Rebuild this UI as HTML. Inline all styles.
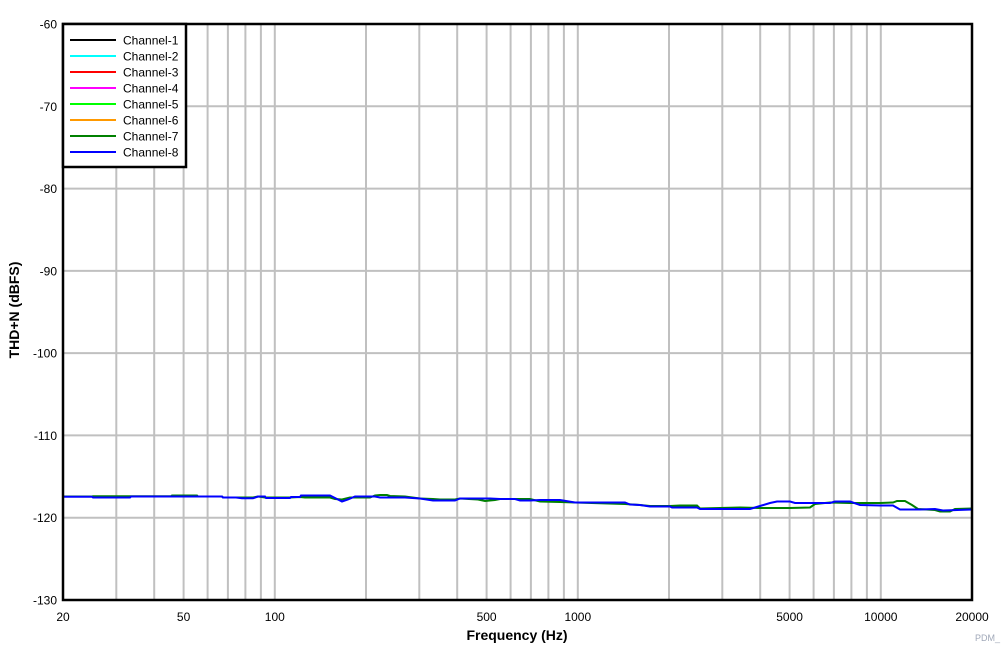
<!DOCTYPE html>
<html><head><meta charset="utf-8"><style>
html,body{margin:0;padding:0;background:#fff;}
svg{display:block;font-family:"Liberation Sans",Arial,sans-serif;}
</style></head><body>
<svg width="1008" height="652" viewBox="0 0 1008 652" xmlns="http://www.w3.org/2000/svg">
<rect width="1008" height="652" fill="#fff"/>
<g stroke="#c0c0c0" stroke-width="2">
<line x1="116.3" y1="24" x2="116.3" y2="600"/>
<line x1="154.2" y1="24" x2="154.2" y2="600"/>
<line x1="183.6" y1="24" x2="183.6" y2="600"/>
<line x1="207.6" y1="24" x2="207.6" y2="600"/>
<line x1="227.9" y1="24" x2="227.9" y2="600"/>
<line x1="245.4" y1="24" x2="245.4" y2="600"/>
<line x1="260.9" y1="24" x2="260.9" y2="600"/>
<line x1="274.8" y1="24" x2="274.8" y2="600"/>
<line x1="366.0" y1="24" x2="366.0" y2="600"/>
<line x1="419.3" y1="24" x2="419.3" y2="600"/>
<line x1="457.2" y1="24" x2="457.2" y2="600"/>
<line x1="486.6" y1="24" x2="486.6" y2="600"/>
<line x1="510.6" y1="24" x2="510.6" y2="600"/>
<line x1="530.9" y1="24" x2="530.9" y2="600"/>
<line x1="548.4" y1="24" x2="548.4" y2="600"/>
<line x1="563.9" y1="24" x2="563.9" y2="600"/>
<line x1="577.8" y1="24" x2="577.8" y2="600"/>
<line x1="669.0" y1="24" x2="669.0" y2="600"/>
<line x1="722.3" y1="24" x2="722.3" y2="600"/>
<line x1="760.2" y1="24" x2="760.2" y2="600"/>
<line x1="789.6" y1="24" x2="789.6" y2="600"/>
<line x1="813.6" y1="24" x2="813.6" y2="600"/>
<line x1="833.9" y1="24" x2="833.9" y2="600"/>
<line x1="851.4" y1="24" x2="851.4" y2="600"/>
<line x1="866.9" y1="24" x2="866.9" y2="600"/>
<line x1="880.8" y1="24" x2="880.8" y2="600"/>
<line x1="63" y1="106.3" x2="972" y2="106.3"/>
<line x1="63" y1="188.6" x2="972" y2="188.6"/>
<line x1="63" y1="270.9" x2="972" y2="270.9"/>
<line x1="63" y1="353.1" x2="972" y2="353.1"/>
<line x1="63" y1="435.4" x2="972" y2="435.4"/>
<line x1="63" y1="517.7" x2="972" y2="517.7"/>
</g>
<!-- green channel 7 -->
<polyline fill="none" stroke="#008000" stroke-width="2" points="63,496.5 92,496.5 93,496.3 130,496.3 171,496.3 172,495.5 197,495.5 198,496.5 222,496.5 223,497.5 240,497.5 253,497.5 258,496.5 265,497.5 290,497.5 300,497 305,497.5 330,497.5 335,499 342,499.5 350,497.5 370,497.5 375,495.5 380,495 387,495 390,496 405,496.5 420,498.5 433,499 440,499.5 455,499.5 460,498.5 478,499.5 485,501 495,500 500,499 530,499 540,501.5 560,502 575,502.5 625,504 640,505 650,506 670,506 680,505.5 697,505.5 700,508.5 720,508 740,507.5 760,508 790,508 810,507.5 815,504 830,502.5 850,503 880,503 893,502.5 897,501 905,501 912,505 918,509 935,510 940,511.5 950,511.5 955,509 972,508.5"/>
<!-- blue channel 8 -->
<polyline fill="none" stroke="#0000ff" stroke-width="2" points="63,496.7 92,496.7 93,497.5 130,497.5 131,496.5 222,496.5 223,497.5 236,497.5 242,498.3 253,498.3 258,496.5 265,496.5 266,498 290,498 291,497 300,497 301,495.5 330,495.5 336,498.5 342,501.5 348,499.5 355,496.5 375,496.5 380,497.5 405,497.5 420,498.5 433,500.5 455,500.5 460,498.5 490,498.5 500,499 515,499 520,500.5 530,500.5 540,500 560,500 575,502.5 625,502.5 630,504.5 640,505 650,506.5 670,506.5 672,507.5 697,507.5 700,509 750,509 755,507.5 760,506 770,503 777,501.5 790,501.5 795,503 830,503 835,501.5 850,501.5 860,505 880,505.5 893,505.5 900,509.5 920,509.5 935,509 943,510.5 972,509.5"/>
<rect x="63" y="24" width="909" height="576" fill="none" stroke="#000" stroke-width="2.5"/>
<!-- legend -->
<rect x="63" y="24" width="123" height="143" fill="#fff" stroke="#000" stroke-width="2.5"/>
<g stroke-width="2">
<line x1="70" y1="40" x2="116" y2="40" stroke="#000000"/>
<line x1="70" y1="56" x2="116" y2="56" stroke="#00ffff"/>
<line x1="70" y1="72" x2="116" y2="72" stroke="#ff0000"/>
<line x1="70" y1="88" x2="116" y2="88" stroke="#ff00ff"/>
<line x1="70" y1="104" x2="116" y2="104" stroke="#00ff00"/>
<line x1="70" y1="120" x2="116" y2="120" stroke="#ff9900"/>
<line x1="70" y1="136" x2="116" y2="136" stroke="#008000"/>
<line x1="70" y1="152" x2="116" y2="152" stroke="#0000ff"/>
</g>
<g font-size="12" fill="#000">
<text x="123" y="44.5">Channel-1</text>
<text x="123" y="60.5">Channel-2</text>
<text x="123" y="76.5">Channel-3</text>
<text x="123" y="92.5">Channel-4</text>
<text x="123" y="108.5">Channel-5</text>
<text x="123" y="124.5">Channel-6</text>
<text x="123" y="140.5">Channel-7</text>
<text x="123" y="156.5">Channel-8</text>
</g>
<g font-size="12" fill="#000" text-anchor="end">
<text x="57" y="28.5">-60</text>
<text x="57" y="110.8">-70</text>
<text x="57" y="193.1">-80</text>
<text x="57" y="275.4">-90</text>
<text x="57" y="357.6">-100</text>
<text x="57" y="439.9">-110</text>
<text x="57" y="522.2">-120</text>
<text x="57" y="604.5">-130</text>
</g>
<g font-size="12" fill="#000" text-anchor="middle">
<text x="63" y="621">20</text>
<text x="183.6" y="621">50</text>
<text x="274.8" y="621">100</text>
<text x="486.6" y="621">500</text>
<text x="577.8" y="621">1000</text>
<text x="789.6" y="621">5000</text>
<text x="880.8" y="621">10000</text>
<text x="972" y="621">20000</text>
</g>
<text x="517" y="640" font-size="14" font-weight="bold" text-anchor="middle">Frequency (Hz)</text>
<text transform="translate(19,310) rotate(-90)" font-size="14" font-weight="bold" text-anchor="middle">THD+N (dBFS)</text>
<text x="975" y="641" font-size="9" fill="#a0a8b8">PDM_</text>
</svg>
</body></html>
